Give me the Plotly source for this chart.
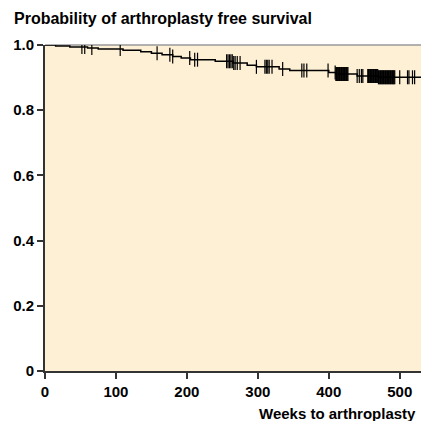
import numpy as np
import plotly.graph_objects as go

# Kaplan-Meier step data (weeks, survival after event)
event_weeks = [0, 15, 35, 60, 75, 110, 135, 150, 165, 180, 192, 205, 240, 265, 285, 298, 330, 345, 400, 410, 440, 470]
survival = [1.0, 0.997, 0.994, 0.991, 0.988, 0.984, 0.979, 0.975, 0.970, 0.965, 0.960, 0.955, 0.950, 0.945, 0.938, 0.933, 0.926, 0.922, 0.916, 0.911, 0.905, 0.901]
end_week = 530

# censored observations (weeks)
censor_weeks = [52, 56, 66, 106, 158, 176, 180, 204, 211, 215,
                256, 258, 260, 262, 264, 266, 268, 271, 275, 298, 310, 312, 314, 316, 320, 335,
                362, 365, 369, 399,
                409, 410, 411, 412, 413, 414, 415, 416, 417, 418, 419, 420, 421, 422, 423, 424, 425, 426, 427,
                440, 443, 446, 448,
                455, 456, 457, 458, 459, 460, 461, 462, 463, 464, 465, 466, 467, 468, 469, 470, 471, 472,
                473, 474, 475, 476, 477, 478, 479, 480, 481, 482, 483, 484, 485, 486, 487, 488, 489, 490,
                491, 492, 493,
                500, 511, 513, 518, 521]

y_tickvals = [0, 0.2, 0.4, 0.6, 0.8, 1.0]
y_ticktext = ["0", "0.2", "0.4", "0.6", "0.8", "1.0"]
x_tickvals = [0, 100, 200, 300, 400, 500]

title_text = "Probability of arthroplasty free survival"
x_title = "Weeks to arthroplasty"

ew = np.array(event_weeks, dtype=float)
sv = np.array(survival, dtype=float)
cw = np.array(censor_weeks, dtype=float)
idx = np.searchsorted(ew, cw, side="right") - 1
censor_surv = sv[idx]

line_x = list(event_weeks) + [end_week]
line_y = list(survival) + [survival[-1]]

fig = go.Figure()
fig.add_trace(go.Scatter(x=line_x, y=line_y, mode="lines",
                         line=dict(shape="hv", color="black", width=1.5),
                         hoverinfo="skip", showlegend=False))
fig.add_trace(go.Scatter(x=cw, y=censor_surv, mode="markers",
                         marker=dict(symbol="line-ns", size=10,
                                     line=dict(color="black", width=1.2)),
                         showlegend=False))

font_family = "Liberation Sans, Arial, sans-serif"

W = 421
H = 421

fig.update_layout(
    width=W, height=H,
    margin=dict(l=45, r=0, t=45, b=50),
    paper_bgcolor="white",
    plot_bgcolor="#FEF0D5",
    font=dict(family=font_family, size=14, color="black"),
    title=dict(text=title_text, x=14/W, xref="container", xanchor="left",
               y=1-18/H, yref="container", yanchor="middle",
               font=dict(family=font_family, size=16, color="black", weight="bold")),
    xaxis=dict(range=[0, 530], tickvals=x_tickvals, ticks="outside", ticklen=6,
               tickwidth=1.5, tickcolor="#333", showline=True, linecolor="#333",
               linewidth=2, showgrid=False, zeroline=False,
               tickfont=dict(family=font_family, size=15, weight="bold")),
    yaxis=dict(range=[0, 1], tickvals=y_tickvals, ticktext=y_ticktext,
               ticks="outside", ticklen=6, tickwidth=1.5, tickcolor="#333",
               showline=True, linecolor="#333", linewidth=2, showgrid=False,
               zeroline=False,
               tickfont=dict(family=font_family, size=15, weight="bold")),
    shapes=[dict(type="line", xref="paper", yref="paper", x0=0, x1=1, y0=1, y1=1,
                 line=dict(color="#999", width=1.5), layer="below")],
    annotations=[dict(text=x_title, xref="paper", yref="paper", x=1, y=0,
                      xanchor="right", yanchor="middle", xshift=-3, yshift=-42,
                      showarrow=False,
                      font=dict(family=font_family, size=15, weight="bold"))],
)

fig.write_html("out.html",
               config={"displayModeBar": False},
               post_script="document.body.style.margin='0';document.body.style.overflow='hidden';")
